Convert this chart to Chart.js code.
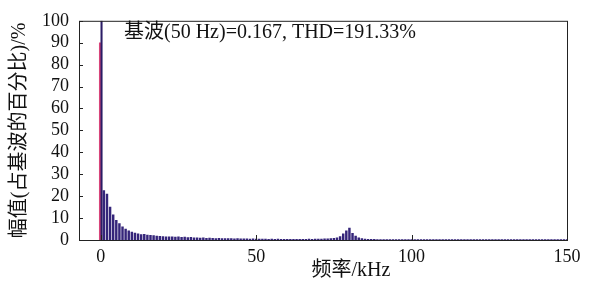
<!DOCTYPE html>
<html>
<head>
<meta charset="utf-8">
<script src="https://cdn.jsdelivr.net/npm/chart.js@4"></script>
<style>
  html, body { margin: 0; padding: 0; background: #fff; }
  #wrap { width: 590px; height: 286px; }
</style>
</head>
<body>
<div id="wrap"><canvas id="spectrumChart" width="590" height="286"></canvas></div>
<script>
// fundamental (50 Hz) in kHz
const fundFreq = 0.05;
const fundPct = 100;
const fundOverlayPct = 90;

// harmonic bins, kHz
const binFreqs = Array.from({ length: 150 }, (_, i) => i + 1);
// amplitude, % of fundamental
const binPct = [
  22.5, 21, 15, 11.5, 9, 7.5, 6, 5, 4.2, 3.6,
  3.1, 2.8, 2.5, 2.6, 2.3, 2.1, 2.0, 1.8, 1.7, 1.6,
  1.5, 1.4, 1.5, 1.3, 1.4, 1.2, 1.3, 1.1, 1.2, 1.0,
  1.0, 0.9, 1.0, 0.8, 0.9, 0.8, 0.7, 0.8, 0.7, 0.6,
  0.6, 0.6, 0.5, 0.6, 0.5, 0.5, 0.5, 0.4, 0.5, 0.4,
  0.4, 0.4, 0.4, 0.3, 0.4, 0.3, 0.4, 0.3, 0.3, 0.3,
  0.3, 0.3, 0.3, 0.3, 0.3, 0.3, 0.4, 0.3, 0.4, 0.4,
  0.4, 0.5, 0.5, 0.6, 0.8, 1.0, 1.6, 2.8, 4.2, 5.4,
  3.0, 1.8, 1.0, 0.6, 0.4, 0.3, 0.3, 0.3, 0.2, 0.2,
  0.2, 0.2, 0.2, 0.2, 0.2, 0.2, 0.2, 0.2, 0.2, 0.2,
  0.2, 0.2, 0.2, 0.2, 0.2, 0.2, 0.2, 0.2, 0.2, 0.2,
  0.2, 0.2, 0.2, 0.2, 0.2, 0.2, 0.2, 0.2, 0.2, 0.2,
  0.2, 0.2, 0.2, 0.2, 0.2, 0.2, 0.2, 0.2, 0.2, 0.2,
  0.2, 0.2, 0.2, 0.2, 0.2, 0.2, 0.2, 0.2, 0.2, 0.2,
  0.2, 0.2, 0.2, 0.2, 0.2, 0.2, 0.2, 0.2, 0.2, 0.2
];

const xTicks = [0, 50, 100, 150];
const yTicks = [0, 10, 20, 30, 40, 50, 60, 70, 80, 90, 100];

const xTitle = '频率/kHz';
const yTitle = '幅值(占基波的百分比)/%';
const note = '基波(50 Hz)=0.167, THD=191.33%';

const serif = '"Liberation Serif", "Noto Sans CJK SC", serif';

// frame, inward tick marks, titles and the annotation
const decorations = {
  id: 'decorations',
  afterDraw(chart) {
    const { ctx, chartArea: a, scales } = chart;
    ctx.save();
    ctx.strokeStyle = '#222';
    ctx.lineWidth = 1;
    ctx.strokeRect(a.left + 0.5, a.top + 0.5, a.right - a.left, a.bottom - a.top);
    ctx.beginPath();
    yTicks.forEach(v => {
      const y = Math.round(scales.y.getPixelForValue(v)) + 0.5;
      ctx.moveTo(a.left, y); ctx.lineTo(a.left + 4, y);
    });
    xTicks.forEach(v => {
      const x = Math.round(scales.x.getPixelForValue(v)) + 0.5;
      ctx.moveTo(x, a.bottom); ctx.lineTo(x, a.bottom - 5);
    });
    ctx.stroke();

    ctx.fillStyle = '#111';
    ctx.font = '20px ' + serif;
    ctx.textBaseline = 'middle';
    ctx.textAlign = 'left';
    ctx.fillText(note, 124, 33);

    ctx.textAlign = 'center';
    ctx.fillText(xTitle, 351, 271);

    ctx.translate(20, (a.top + a.bottom) / 2);
    ctx.rotate(-Math.PI / 2);
    ctx.fillText(yTitle, 0, 0);
    ctx.restore();
  }
};

const harmonicData = binFreqs.map((f, i) => ({ x: f, y: binPct[i] }));

new Chart('spectrumChart', {
  type: 'bar',
  data: {
    datasets: [
      {
        label: 'fund overlay',
        data: [{ x: fundFreq - 0.2, y: fundOverlayPct }],
        backgroundColor: '#d8457a',
        barThickness: 2,
        grouped: false,
        order: 2
      },
      {
        label: 'fund',
        data: [{ x: fundFreq + 0.2, y: fundPct }],
        backgroundColor: '#2b1d66',
        barThickness: 1.4,
        grouped: false,
        order: 1
      },
      {
        label: 'harmonics',
        data: harmonicData,
        backgroundColor: '#35257a',
        barThickness: 1.8,
        grouped: false,
        order: 1
      }
    ]
  },
  options: {
    responsive: false,
    animation: false,
    layout: { padding: { left: 0, right: 23, top: 12, bottom: 0 } },
    plugins: { legend: { display: false }, tooltip: { enabled: false } },
    scales: {
      x: {
        type: 'linear',
        min: -7,
        max: 150,
        offset: false,
        afterFit: s => { s.height = 46; },
        afterBuildTicks: s => { s.ticks = xTicks.map(v => ({ value: v })); },
        grid: { display: false, drawTicks: false },
        border: { display: false },
        ticks: { color: '#111', font: { family: serif, size: 18 }, padding: 6, maxRotation: 0, autoSkip: false }
      },
      y: {
        min: 0,
        max: 100,
        afterFit: s => { s.width = 79; },
        afterBuildTicks: s => { s.ticks = yTicks.map(v => ({ value: v })); },
        grid: { display: false, drawTicks: false },
        border: { display: false },
        ticks: { color: '#111', font: { family: serif, size: 18 }, padding: 10, autoSkip: false }
      }
    }
  },
  plugins: [decorations]
});
</script>
</body>
</html>
